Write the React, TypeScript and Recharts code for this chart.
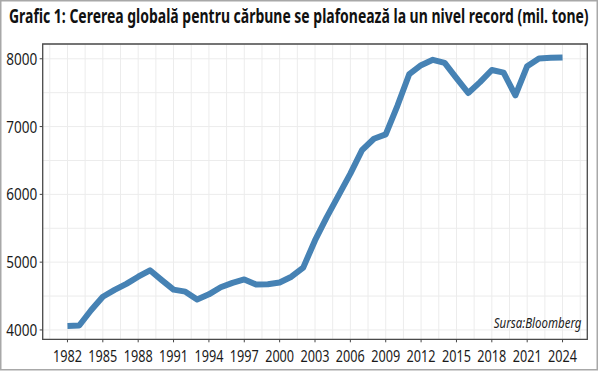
import React from "react";
import { LineChart, Line, XAxis, YAxis, CartesianGrid, ReferenceArea } from "recharts";

const years = [
  1982, 1983, 1984, 1985, 1986, 1987, 1988, 1989, 1990, 1991, 1992, 1993, 1994, 1995,
  1996, 1997, 1998, 1999, 2000, 2001, 2002, 2003, 2004, 2005, 2006, 2007, 2008, 2009,
  2010, 2011, 2012, 2013, 2014, 2015, 2016, 2017, 2018, 2019, 2020, 2021, 2022, 2023, 2024,
];
const demand = [
  4060, 4065, 4290, 4490, 4590, 4680, 4785, 4880, 4735, 4595, 4565, 4450, 4525, 4630,
  4695, 4745, 4670, 4675, 4700, 4785, 4920, 5320, 5665, 5985, 6305, 6655, 6820, 6885,
  7310, 7775, 7905, 7985, 7940, 7715, 7495, 7655, 7835, 7795, 7460, 7890, 8005, 8015, 8020,
];
const xMajorTicks = [1982, 1985, 1988, 1991, 1994, 1997, 2000, 2003, 2006, 2009, 2012, 2015, 2018, 2021, 2024];
const yMajorTicks = [4000, 5000, 6000, 7000, 8000];
const title = "Grafic 1: Cererea globală pentru cărbune se plafonează la un nivel record (mil. tone)";
const source = "Sursa:Bloomberg";

const xDomain: [number, number] = [1979.9, 2026.1];
const yDomain: [number, number] = [3862, 8218];

const data = years.map((y, i) => ({ year: y, value: demand[i] }));
const xGridTicks = xMajorTicks.flatMap((t) => [t - 1.5, t]).concat([xMajorTicks[xMajorTicks.length - 1] + 1.5]);
const yGridTicks = yMajorTicks.flatMap((t, i) => (i < yMajorTicks.length - 1 ? [t, t + 500] : [t]));

const FONT = "'Noto Sans', 'Open Sans', sans-serif";

const XTick = (props: any) => {
  const { x, y, payload } = props;
  if (!xMajorTicks.includes(payload.value)) return <g />;
  return (
    <g>
      <line x1={x} x2={x} y1={y} y2={y + 3} stroke="#444" strokeWidth={1} />
      <text
        x={x}
        y={y + 22.5}
        textAnchor="middle"
        fontFamily={FONT}
        fontSize={17}
        fill="#1a1a1a"
        textLength={29}
        lengthAdjust="spacingAndGlyphs"
      >
        {payload.value}
      </text>
    </g>
  );
};

const YTick = (props: any) => {
  const { x, y, payload } = props;
  if (!yMajorTicks.includes(payload.value)) return <g />;
  return (
    <g>
      <line x1={x - 3} x2={x} y1={y} y2={y} stroke="#444" strokeWidth={1} />
      <text
        x={x - 5.5}
        y={y + 6}
        textAnchor="end"
        fontFamily={FONT}
        fontSize={17}
        fill="#1a1a1a"
        textLength={31}
        lengthAdjust="spacingAndGlyphs"
      >
        {payload.value}
      </text>
    </g>
  );
};

export default function App() {
  return (
    <div style={{ position: "absolute", left: 0, top: 0, width: 600, height: 371, background: "#fff" }}>
      <LineChart
        width={600}
        height={371}
        data={data}
        margin={{ top: 44, right: 12.7, bottom: 1.7, left: 2.7 }}
      >
        <CartesianGrid stroke="#ececec" strokeWidth={1} />
        <XAxis
          dataKey="year"
          type="number"
          domain={xDomain}
          ticks={xGridTicks}
          interval={0}
          tick={<XTick />}
          tickLine={false}
          tickSize={0}
          tickMargin={0}
          axisLine={false}
          height={30}
          allowDataOverflow
        />
        <YAxis
          type="number"
          domain={yDomain}
          ticks={yGridTicks}
          interval={0}
          tick={<YTick />}
          tickLine={false}
          tickSize={0}
          tickMargin={0}
          axisLine={false}
          width={40}
          allowDataOverflow
        />
        <ReferenceArea
          x1={xDomain[0]}
          x2={xDomain[1]}
          y1={yDomain[0]}
          y2={yDomain[1]}
          fill="none"
          stroke="#4a4a4a"
          strokeWidth={1.3}
          ifOverflow="visible"
        />
        <Line
          type="linear"
          dataKey="value"
          stroke="#4682b4"
          strokeWidth={6}
          strokeLinejoin="round"
          strokeLinecap="butt"
          dot={false}
          activeDot={false}
          isAnimationActive={false}
        />
      </LineChart>
      <svg
        width={600}
        height={371}
        style={{ position: "absolute", left: 0, top: 0, pointerEvents: "none" }}
      >
        <g transform="translate(9,23) scale(0.69,1)">
          <text
            x={0}
            y={0}
            fontFamily={FONT}
            fontWeight="bold"
            fontSize={19}
            fill="#111"
            textLength={840}
            lengthAdjust="spacingAndGlyphs"
          >
            {title}
          </text>
        </g>
        <g transform="translate(581.5,328) scale(0.75,1)">
          <text
            x={0}
            y={0}
            textAnchor="end"
            fontFamily={FONT}
            fontStyle="italic"
            fontSize={14.5}
            fill="#222"
            textLength={117}
            lengthAdjust="spacingAndGlyphs"
          >
            {source}
          </text>
        </g>
        <rect x={0.75} y={0.75} width={596.5} height={369} fill="none" stroke="#a8a8a8" strokeWidth={1.5} />
      </svg>
    </div>
  );
}
